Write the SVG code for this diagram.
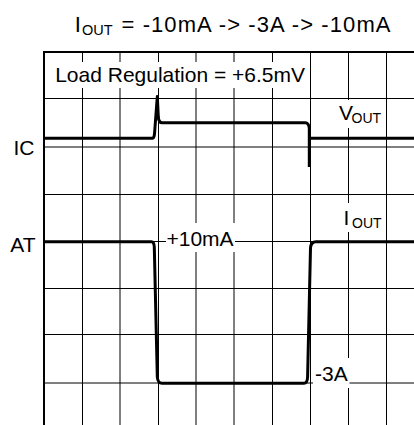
<svg xmlns="http://www.w3.org/2000/svg" width="414" height="425" viewBox="0 0 414 425">
<style>
  .grid line { stroke: #000; stroke-width: 1; }
  .frame { stroke: #000; stroke-width: 2; fill: none; }
  .trace { stroke: #000; stroke-width: 3; fill: none; stroke-linejoin: round; stroke-linecap: butt; }
  .bg { fill: #fff; }
  text { font-family: "Liberation Sans", Arial, sans-serif; fill: #000; }
  .lbl { font-size: 21px; }
  .sub { font-size: 14px; }
</style>
<rect width="414" height="425" fill="#fff"/>
<g id="grid" class="grid">
  <line x1="82.5" y1="52" x2="82.5" y2="425"/>
  <line x1="120" y1="52" x2="120" y2="425"/>
  <line x1="158.5" y1="52" x2="158.5" y2="425"/>
  <line x1="196" y1="52" x2="196" y2="425"/>
  <line x1="234" y1="52" x2="234" y2="425"/>
  <line x1="272.5" y1="52" x2="272.5" y2="425"/>
  <line x1="310.5" y1="52" x2="310.5" y2="425"/>
  <line x1="348.5" y1="52" x2="348.5" y2="425"/>
  <line x1="386.5" y1="52" x2="386.5" y2="425"/>
  <line x1="44" y1="98.5" x2="414" y2="98.5"/>
  <line x1="44" y1="147" x2="414" y2="147"/>
  <line x1="44" y1="194.5" x2="414" y2="194.5"/>
  <line x1="44" y1="241.5" x2="414" y2="241.5"/>
  <line x1="44" y1="288.5" x2="414" y2="288.5"/>
  <line x1="44" y1="334.5" x2="414" y2="334.5"/>
  <line x1="44" y1="383" x2="414" y2="383"/>
</g>
<g id="frame">
  <line class="frame" x1="43" y1="52" x2="414" y2="52"/>
  <line class="frame" x1="44" y1="51" x2="44" y2="425"/>
</g>
<g id="connectors">
  <path id="vout-trace" class="trace" d="M44,138.3 H152.5 Q154,138 154.5,134 L157.3,96.5 L158.3,117 Q158.8,122.7 162,122.7 H305.5 Q308.5,122.7 309.3,128 V167 M309.3,138.3 H414"/>
  <path id="iout-trace" class="trace" d="M44,241.7 H151.5 Q154,241.7 154.3,247 L157.3,377 Q157.8,383.3 162,383.3 H304 Q307.3,383.3 307.6,377 L310.5,248 Q311,241.7 316,241.7 H414"/>
</g>
<g id="title">
  <text x="74.7" y="32" style="font-size:22px">I</text>
  <text x="82" y="34.5" style="font-size:14.5px">OUT</text>
  <text x="121.5" y="32" style="font-size:22px" textLength="269" lengthAdjust="spacing">= -10mA -&gt; -3A -&gt; -10mA</text>
</g>
<g id="load-regulation">
  <rect class="bg" x="50" y="62" width="259" height="26"/>
  <text x="55.2" y="82" class="lbl">Load Regulation = +6.5mV</text>
</g>
<g id="ic-label">
  <text x="34.5" y="155" class="lbl" text-anchor="end">IC</text>
</g>
<g id="at-label">
  <text x="35.5" y="252" class="lbl" text-anchor="end">AT</text>
</g>
<g id="vout-label">
  <rect class="bg" x="337" y="100" width="48" height="28"/>
  <text x="339" y="120" class="lbl">V</text>
  <text x="351.5" y="122.5" class="sub">OUT</text>
</g>
<g id="iout-label">
  <rect class="bg" x="337" y="203" width="48" height="29"/>
  <text x="343.5" y="225" class="lbl">I</text>
  <text x="352" y="227.5" class="sub">OUT</text>
</g>
<g id="plus10ma-label">
  <rect class="bg" x="166" y="223" width="69" height="29"/>
  <text x="166.5" y="245.5" class="lbl">+10mA</text>
</g>
<g id="minus3a-label">
  <rect class="bg" x="313" y="358" width="36.5" height="30"/>
  <text x="315" y="381" class="lbl">-3A</text>
</g>
</svg>
